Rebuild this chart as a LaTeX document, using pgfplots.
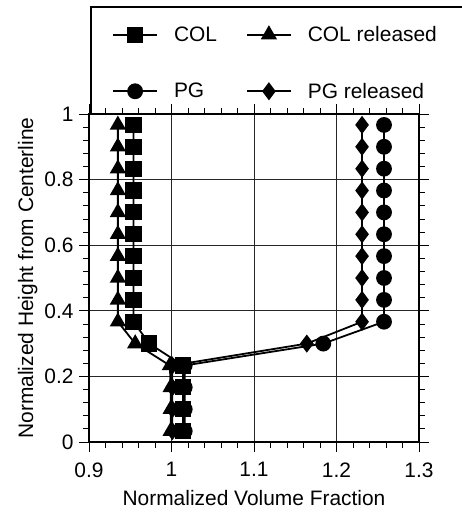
\documentclass[border=0pt]{standalone}
\usepackage{fontspec}
\setmainfont{Liberation Sans}
\usepackage{pgfplots}
\pgfplotsset{compat=1.18}

% volume fraction profiles, heights at (2k+1)/30
\pgfplotstableread{
y      col    colrel  pg     pgrel
0.0333 1.014  0.999   1.016  1.001
0.1000 1.014  0.999   1.016  1.001
0.1667 1.014  0.999   1.016  1.001
0.2333 1.014  0.998   1.016  1.001
0.3000 0.973  0.956   1.184  1.164
0.3667 0.954  0.935   1.2576 1.231
0.4333 0.954  0.935   1.2576 1.231
0.5000 0.954  0.935   1.2576 1.231
0.5667 0.954  0.935   1.2576 1.231
0.6333 0.954  0.935   1.2576 1.231
0.7000 0.954  0.935   1.2576 1.231
0.7667 0.954  0.935   1.2576 1.231
0.8333 0.954  0.935   1.2576 1.231
0.9000 0.954  0.935   1.2576 1.231
0.9667 0.954  0.935   1.2576 1.231
}\profiles

\begin{document}
\begin{tikzpicture}
\begin{axis}[
    scale only axis, width=330bp, height=328bp,
    xmin=0.9, xmax=1.3, ymin=0, ymax=1,
    xtick={0.9,1,1.1,1.2,1.3}, ytick={0,0.2,0.4,0.6,0.8,1},
    minor x tick num=4, minor y tick num=4,
    grid=major, major grid style={black!85, line width=0.8bp},
    tick align=outside, major tick length=10bp, minor tick length=6bp,
    tick style={black, line width=0.8bp},
    axis line style={line width=1.3bp},
    /pgf/number format/assume math mode=true,
    ticklabel style={font=\fontsize{21}{24}\selectfont},
    label style={font=\fontsize{21}{24}\selectfont},
    xticklabel style={yshift=-7bp},
    yticklabel style={xshift=-2bp},
    xlabel style={yshift=-6bp},
    xlabel={Normalized Volume Fraction},
    ylabel={Normalized Height from Centerline},
    clip=false,
    every axis plot/.append style={line width=1.8bp, black},
    legend columns=2, legend cell align=left,
    legend image code/.code={\draw[mark repeat=2,mark phase=2,#1] plot coordinates {(0bp,0bp) (22bp,0bp) (44bp,0bp)};},
    legend style={at={(rel axis cs:0.0697,1.268)}, anchor=north west,
        draw=none, fill=none, inner sep=0pt, row sep=40bp,
        font=\fontsize{21}{24}\selectfont,
        nodes={inner sep=0pt},
        /tikz/every odd column/.append style={column sep=16bp},
        /tikz/every even column/.append style={column sep=29bp}},
]
\addlegendimage{mark=square*, mark size=7.2bp}
\addlegendentry{COL}
\addlegendimage{mark=triangle*, mark size=7.6bp}
\addlegendentry{COL released}
\addlegendimage{mark=*, mark size=7bp}
\addlegendentry{PG}
\addlegendimage{mark=diamond*, mark size=7.6bp}
\addlegendentry{PG released}

\addplot[forget plot, mark=diamond*, mark size=7.6bp] table[x=pgrel, y=y] {\profiles};
\addplot[forget plot, mark=*, mark size=7bp] table[x=pg, y=y] {\profiles};
\addplot[forget plot, mark=triangle*, mark size=7.6bp] table[x=colrel, y=y] {\profiles};
\addplot[forget plot, mark=square*, mark size=7.2bp] table[x=col, y=y] {\profiles};

\draw[line width=1.3bp] (rel axis cs:0.006,1) -- (rel axis cs:0.006,1.326) -- (rel axis cs:1.3,1.326);
\coordinate (bl) at (rel axis cs:0,0);
\end{axis}
\pgfresetboundingbox
\path[use as bounding box] ([shift={(-89bp,-71bp)}]bl) rectangle ([shift={(373bp,442bp)}]bl);
\end{tikzpicture}
\end{document}
